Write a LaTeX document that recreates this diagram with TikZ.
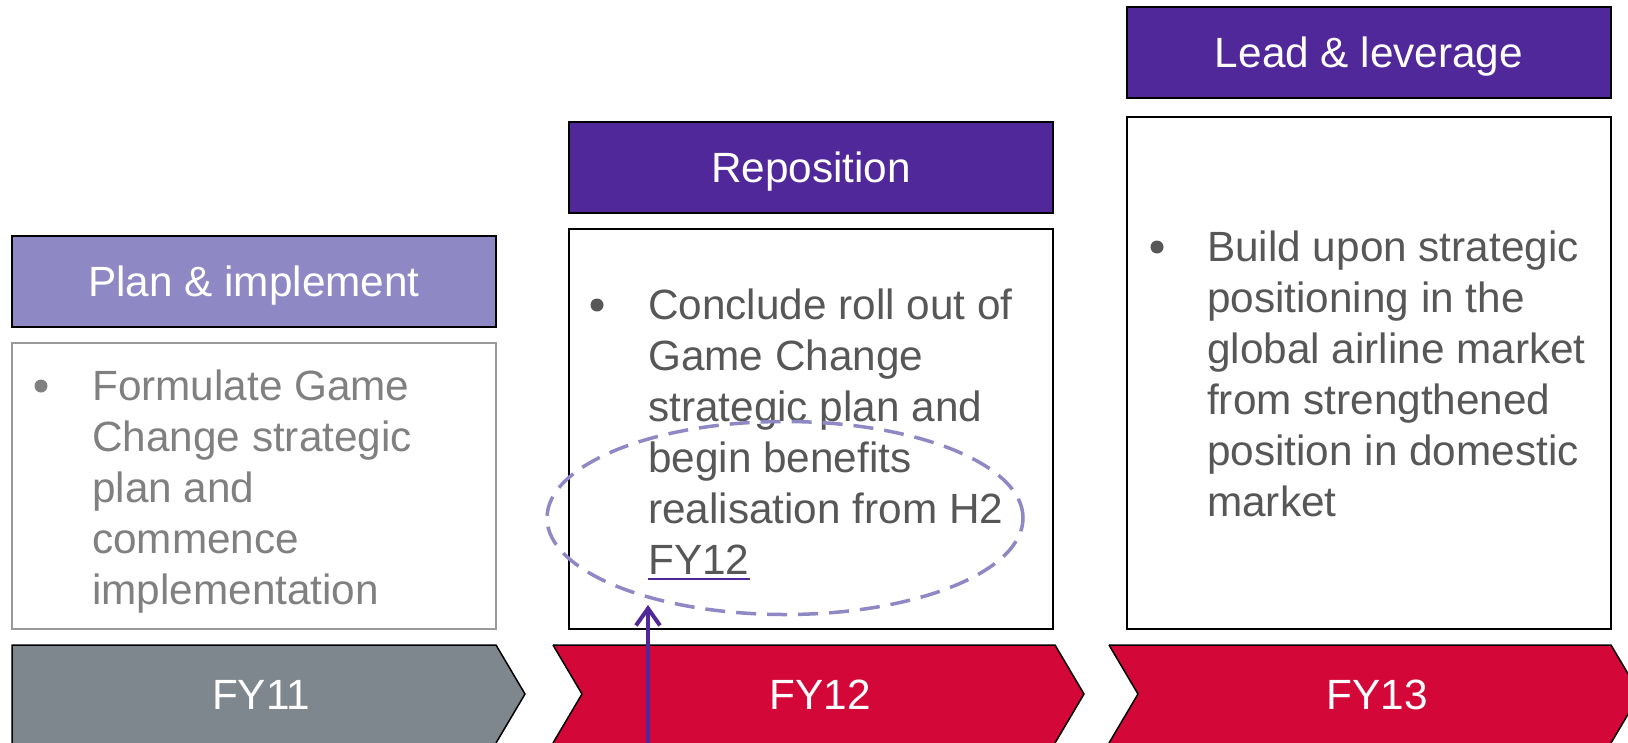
\documentclass[tikz,border=0pt]{standalone}
\usepackage{fontspec}
\setmainfont{Liberation Sans}
\usetikzlibrary{arrows.meta,shapes.geometric}
\definecolor{dpurple}{HTML}{51289A}
\definecolor{lpurple}{HTML}{8E89C4}
\definecolor{fyred}{HTML}{D40838}
\definecolor{fygray}{HTML}{7F878E}
\definecolor{txtdark}{HTML}{575757}
\definecolor{txtlight}{HTML}{808080}
\definecolor{boxgray}{HTML}{999999}
\begin{document}
\begin{tikzpicture}[x=1pt,y=-1pt,
  bigfont/.style={font=\fontsize{42.3}{51}\selectfont},
  hdr/.style={draw=black, line width=1.5pt, minimum width=484pt, minimum height=91pt,
    inner sep=0pt, text=white, bigfont, text height=30pt, text depth=0pt},
  bodybox/.style={draw=black, line width=1.5pt, fill=white, minimum width=484pt, inner sep=0pt},
  bodytext/.style={anchor=north west, inner sep=0pt, align=left, bigfont, text=txtdark},
  bullet/.style={circle, inner sep=0pt, minimum size=13pt},
  chev/.style={draw=black, line width=1.5pt},
  fylabel/.style={text=white, bigfont, inner sep=0pt, anchor=base},
  conn/.style={draw=dpurple, line width=4pt, -{Straight Barb[length=17pt,width=24pt]}}
]
\useasboundingbox (0,0) rectangle (1628,742);

% chevrons
\fill[fygray] (12,645) -- (496,645) -- (525,694) -- (496,743) -- (12,743) -- cycle;
\draw[chev] (12,743) -- (12,645) -- (496,645) -- (525,694) -- (496,743);
\fill[fyred] (553,645) -- (1055,645) -- (1084,694) -- (1055,743) -- (553,743) -- (582,694) -- cycle;
\draw[chev] (553,645) -- (1055,645) -- (1084,694) -- (1055,743);
\draw[chev] (553,645) -- (582,694) -- (553,743);
\fill[fyred] (1109,645) -- (1611,645) -- (1640,694) -- (1611,743) -- (1109,743) -- (1138,694) -- cycle;
\draw[chev] (1109,645) -- (1611,645) -- (1640,694) -- (1611,743);
\draw[chev] (1109,645) -- (1138,694) -- (1109,743);
\node[fylabel] (fy11) at (261,709) {FY11};
\node[fylabel] (fy12) at (820,709) {FY12};
\node[fylabel] (fy13) at (1377,709) {FY13};

% headers
\node[hdr, fill=lpurple] (h1) at (254,281.5) {Plan \& implement};
\node[hdr, fill=dpurple] (h2) at (811,167.5) {Reposition};
\node[hdr, fill=dpurple] (h3) at (1369,52.5) {Lead \& leverage};

% body boxes
\node[bodybox, draw=boxgray, minimum height=286pt] (b1) at (254,486) {};
\node[bodybox, minimum height=400pt] (b2) at (811,429) {};
\node[bodybox, minimum height=512pt] (b3) at (1369,373) {};

% bullets
\node[bullet, fill=txtlight] (d1) at (41,386) {};
\node[bullet, fill=txtdark] (d2) at (597,305) {};
\node[bullet, fill=txtdark] (d3) at (1157,247) {};

% texts
\node[bodytext, text=txtlight] (t1) at (92,364) {\rule{0pt}{36pt}Formulate Game\\Change strategic\\plan and\\commence\\implementation};
\node[bodytext] (t2) at (648,283) {\rule{0pt}{36pt}Conclude roll out of\\Game Change\\strategic plan and\\begin benefits\\realisation from H2\\FY12};
\node[bodytext] (t3) at (1207,225) {\rule{0pt}{36pt}Build upon strategic\\positioning in the\\global airline market\\from strengthened\\position in domestic\\market};

% underline of FY12
\coordinate (u0) at (648,579);
\coordinate (u1) at (750,579);
\draw[dpurple, line width=2.5pt] (u0) -- (u1);

% dashed ellipse
\node[ellipse, draw=lpurple, line width=3.5pt, dash pattern=on 20pt off 11pt,
  minimum width=476pt, minimum height=193pt, inner sep=0pt] (ell) at (785,518) {};

% arrow
\coordinate (ar0) at (648,745);
\coordinate (ar1) at (648,605);
\draw[conn] (ar0) -- (ar1);
\end{tikzpicture}
\end{document}
